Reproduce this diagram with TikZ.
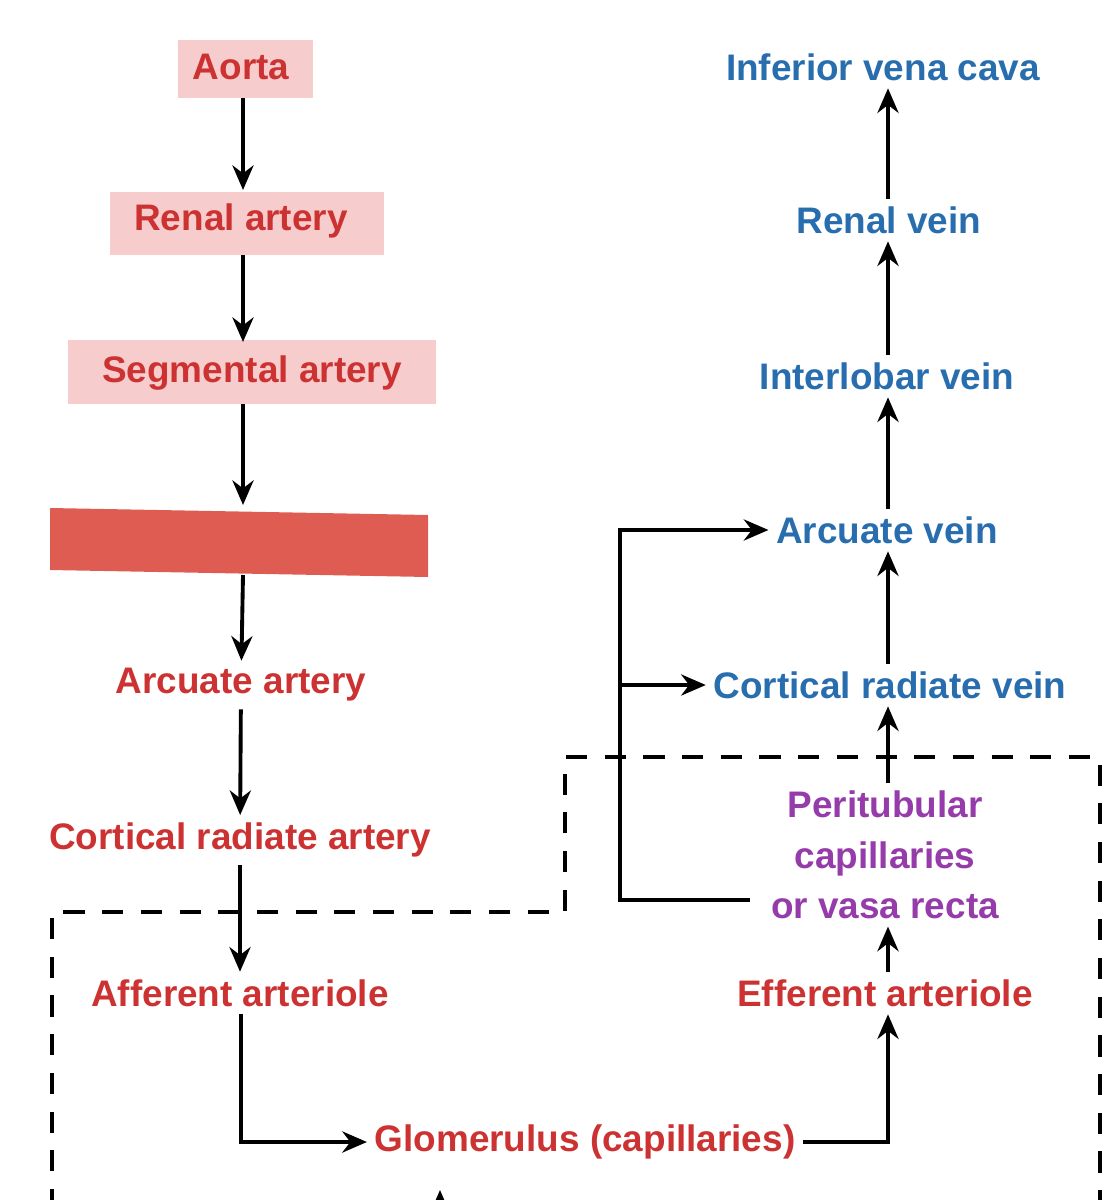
\documentclass[tikz,border=0pt]{standalone}
\usepackage{fontspec}
\setmainfont{Liberation Sans}
\usetikzlibrary{arrows.meta}
\definecolor{rtxt}{RGB}{205,50,50}
\definecolor{pinkbox}{RGB}{246,204,204}
\definecolor{btxt}{RGB}{40,110,175}
\definecolor{ptxt}{RGB}{150,60,170}
\definecolor{rbar}{RGB}{222,92,82}
\begin{document}
\begin{tikzpicture}[x=0.01cm,y=-0.01cm,
 lab/.style={font=\bfseries\fontsize{10.5}{12.5}\selectfont,inner sep=2pt},
 art/.style={lab,text=rtxt},
 vein/.style={lab,text=btxt},
 arr/.style={-{Stealth[length=7pt,width=6pt]},line width=1.1pt,black},
 dashln/.style={line width=0.9pt,dash pattern=on 6pt off 5pt}]
\useasboundingbox (0,0) rectangle (1106,1200);
\clip (0,0) rectangle (1106,1200);
\fill[pinkbox] (178,40) rectangle (313,98);
\fill[pinkbox] (110,192) rectangle (384,255);
\fill[pinkbox] (68,340) rectangle (436,404);
\fill[rbar] (50,508) -- (428,515) -- (428,577) -- (50,570) -- cycle;
\node[art] (ao) at (241,67) {Aorta};
\node[art] (ra) at (241,221) {Renal artery};
\node[art] (sa) at (252,373) {Segmental artery};
\coordinate (barb) at (243,575);
\node[art] (aa) at (241,685) {Arcuate artery};
\node[art] (cra) at (240,840) {Cortical radiate artery};
\node[art] (af) at (240,993) {Afferent arteriole};
\node[art] (gl) at (585,1142) {Glomerulus (capillaries)};
\node[art] (ef) at (885,993) {Efferent arteriole};
\node[lab,text=ptxt,align=center,font=\bfseries\fontsize{10.5}{14.3}\selectfont] (pt) at (885,855) {Peritubular\\capillaries\\or vasa recta};
\node[vein] (crv) at (890,685) {Cortical radiate vein};
\node[vein] (av) at (887,530) {Arcuate vein};
\node[vein] (iv) at (887,376) {Interlobar vein};
\node[vein] (rv) at (889,220) {Renal vein};
\node[vein] (ivc) at (883,67) {Inferior vena cava};
\draw[arr] (243,98) -- (243,190);
\draw[arr] (243,255) -- (243,342);
\draw[arr] (243,404) -- (243,505);
\draw[arr] (barb) -- (aa);
\draw[arr] (aa) -- (cra);
\draw[arr] (cra) -- (af);
\draw[arr] (af.south -| 241,0) |- (gl.west);
\draw[arr] (gl.east) -| (ef.south -| 888,0);
\draw[arr] (ef.north -| 888,0) -- (pt.south -| 888,0);
\draw[arr] (pt.north -| 888,0) -- (crv.south -| 888,0);
\draw[arr] (crv.north -| 888,0) -- (av.south -| 888,0);
\draw[arr] (av.north -| 888,0) -- (iv.south -| 888,0);
\draw[arr] (iv.north -| 888,0) -- (rv.south -| 888,0);
\draw[arr] (rv.north -| 888,0) -- (ivc.south -| 888,0);
\coordinate (bp) at (620,685);
\draw[arr] (750,900) -- (620,900) -- (620,530) -- (av.west);
\draw[arr] (bp) -- (crv.west);
\draw[dashln] (52,1210) -- (52,912) -- (565,912) -- (565,757) -- (1100,757) -- (1100,1210);
\coordinate (tip) at (440,1190);
\draw[arr] (440,1230) -- (tip);
\end{tikzpicture}
\end{document}
